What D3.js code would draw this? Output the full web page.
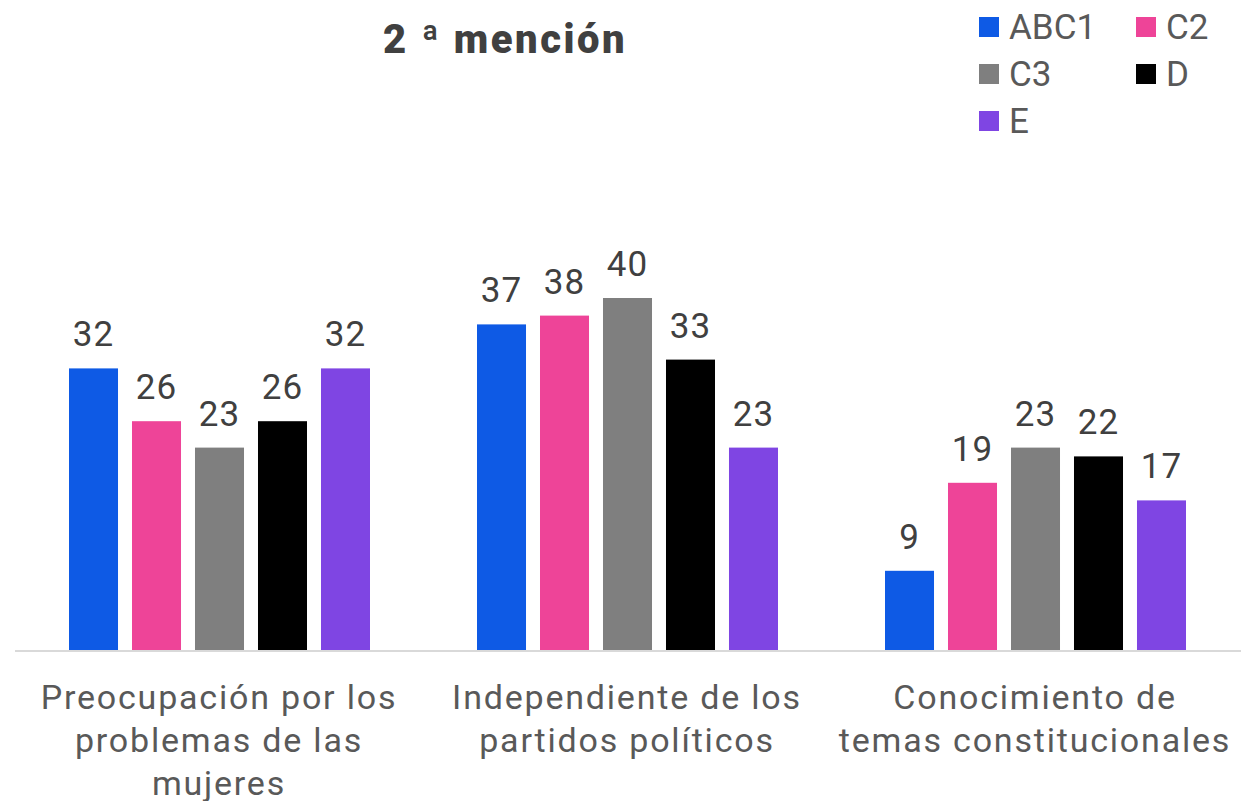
<!DOCTYPE html>
<html>
<head>
<meta charset="utf-8">
<script src="https://cdn.jsdelivr.net/npm/d3@7"></script>
<style>
    body { margin: 0; background: #fff; }
    svg { display: block; }
</style>
</head>
<body>
<div id="chart"></div>
<script>
    "use strict";

    var categories = [
        ["Preocupación por los", "problemas de las", "mujeres"],
        ["Independiente de los", "partidos políticos"],
        ["Conocimiento de", "temas constitucionales"]
    ];
    var seriesNames = ["ABC1", "C2", "C3", "D", "E"];
    var seriesColors = ["#0E5AE5", "#EE4498", "#7F7F7F", "#000000", "#7F45E3"];
    var values = {
        "ABC1": [32, 37, 9],
        "C2": [26, 38, 19],
        "C3": [23, 40, 23],
        "D": [26, 33, 22],
        "E": [32, 23, 17]
    };
    var title = "2 ª mención";

    var w = 1241,
        h = 801,
        baseline = 650,
        font = "Roboto, 'Noto Sans', sans-serif";

    var svg = d3.select("#chart")
        .append("svg")
        .attr("width", w)
        .attr("height", h);

    var groupIds = categories.map(function (d, i) { return i; });

    var x0 = d3.scaleBand()
        .domain(groupIds)
        .range([15, 1239]);

    var x1 = d3.scaleBand()
        .domain(seriesNames)
        .range([54, 355])
        .paddingInner(0.222);

    var y = d3.scaleLinear()
        .domain([0, 45])
        .range([baseline, baseline - 45 * 8.8]);

    // title
    svg.append("text")
        .attr("x", 505)
        .attr("y", 53)
        .attr("text-anchor", "middle")
        .attr("font-family", font)
        .attr("font-weight", 900)
        .attr("font-size", 40)
        .attr("letter-spacing", 2.5)
        .attr("fill", "#404040")
        .text(title);

    // bars
    var groups = svg.selectAll("g.group")
        .data(groupIds)
        .enter()
        .append("g")
        .attr("class", "group")
        .attr("transform", function (d) { return "translate(" + x0(d) + ",0)"; });

    groups.selectAll("rect")
        .data(function (g) {
            return seriesNames.map(function (s, i) {
                return { name: s, value: values[s][g], color: seriesColors[i] };
            });
        })
        .enter()
        .append("rect")
        .attr("x", function (d) { return x1(d.name); })
        .attr("y", function (d) { return y(d.value); })
        .attr("width", x1.bandwidth())
        .attr("height", function (d) { return baseline - y(d.value); })
        .attr("fill", function (d) { return d.color; });

    groups.selectAll("text.value")
        .data(function (g) {
            return seriesNames.map(function (s) {
                return { name: s, value: values[s][g] };
            });
        })
        .enter()
        .append("text")
        .attr("class", "value")
        .attr("x", function (d) { return x1(d.name) + x1.bandwidth() / 2; })
        .attr("y", function (d) { return y(d.value) - 22; })
        .attr("text-anchor", "middle")
        .attr("font-family", font)
        .attr("font-size", 35)
        .attr("letter-spacing", 1)
        .attr("fill", "#404040")
        .text(function (d) { return d.value; });

    // axis line
    svg.append("line")
        .attr("x1", 15)
        .attr("x2", w)
        .attr("y1", baseline + 1)
        .attr("y2", baseline + 1)
        .attr("stroke", "#D9D9D9")
        .attr("stroke-width", 2);

    // category labels
    svg.selectAll("text.cat")
        .data(categories)
        .enter()
        .append("text")
        .attr("class", "cat")
        .attr("text-anchor", "middle")
        .attr("font-family", font)
        .attr("font-size", 34)
        .attr("letter-spacing", 1.8)
        .attr("fill", "#595959")
        .each(function (lines, i) {
            var cx = x0(i) + x0.bandwidth() / 2;
            d3.select(this).selectAll("tspan")
                .data(lines)
                .enter()
                .append("tspan")
                .attr("x", cx)
                .attr("y", function (d, j) { return 709 + j * 43; })
                .text(function (d) { return d; });
        });

    // legend
    var legend = svg.selectAll("g.legend")
        .data(seriesNames)
        .enter()
        .append("g")
        .attr("class", "legend")
        .attr("transform", function (d, i) {
            return "translate(" + (979 + (i % 2) * 157) + "," + (17 + Math.floor(i / 2) * 47) + ")";
        });

    legend.append("rect")
        .attr("width", 20)
        .attr("height", 20)
        .attr("fill", function (d, i) { return seriesColors[i]; });

    legend.append("text")
        .attr("x", 30)
        .attr("y", 22)
        .attr("font-family", font)
        .attr("font-size", 35)
        .attr("fill", "#595959")
        .text(function (d) { return d; });
</script>
</body>
</html>
